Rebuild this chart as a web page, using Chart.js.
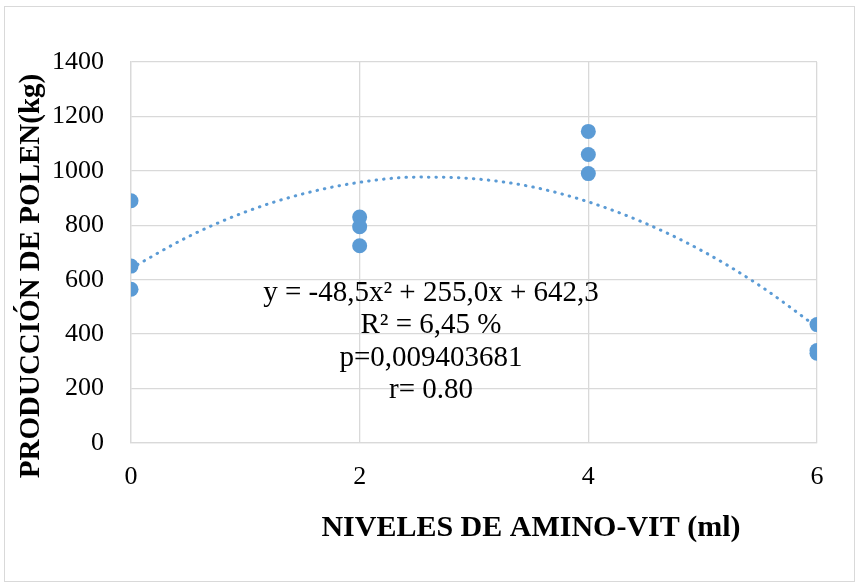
<!DOCTYPE html>
<html><head><meta charset="utf-8">
<script src="https://cdn.jsdelivr.net/npm/chart.js@4/dist/chart.umd.min.js"></script>
<style>
html,body{margin:0;padding:0;background:#fff;}
#wrap{position:absolute;left:0;top:0;width:861px;height:588px;}
#frame{position:absolute;left:4px;top:6px;width:851px;height:576px;border:1px solid #d9d9d9;box-sizing:border-box;pointer-events:none;}
</style></head>
<body>
<div id="wrap"><canvas id="c" width="861" height="588"></canvas><div id="frame"></div></div>
<script>
// Observed data
const levels = [0, 0, 0, 2, 2, 2, 4, 4, 4, 6, 6, 6];
const pollen = [890, 650, 565, 830, 795, 725, 1145, 1060, 990, 435, 340, 330];
// Trend line readings (dotted polynomial trendline)
const trendX = [0, 0.5, 1, 1.5, 2, 2.5, 3, 3.5, 4, 4.5, 5, 5.5, 6];
const trendY = [642, 758, 849, 915, 958, 977, 971, 942, 886, 807, 705, 578, 426];
const yTicks = [0, 200, 400, 600, 800, 1000, 1200, 1400];
const xTicks = [0, 2, 4, 6];
const annotationLines = ["y = -48,5x\u00B2 + 255,0x + 642,3", "R\u00B2 = 6,45 %", "p=0,009403681", "r= 0.80"];
const yTitle = "PRODUCCIÓN DE POLEN(kg)";
const xTitle = "NIVELES DE AMINO-VIT (ml)";

const blue = "#5B9BD5";
const serif = "'Liberation Serif','Times New Roman',serif";

const textPlugin = {
  id: 'texts',
  afterDraw(chart) {
    const ctx = chart.ctx;
    ctx.save();
    ctx.fillStyle = '#000';
    ctx.textAlign = 'center';
    ctx.textBaseline = 'middle';
    ctx.font = "29px " + serif;
    annotationLines.forEach((t, i) => ctx.fillText(t, 431, 293 + i * 32.5));
    ctx.font = "bold 30px " + serif;
    ctx.fillText(xTitle, 531, 528);
    ctx.translate(32, 276);
    ctx.rotate(-Math.PI / 2);
    ctx.font = "bold 29px " + serif;
    ctx.fillText(yTitle, 0, 0);
    ctx.restore();
  }
};

new Chart(document.getElementById('c'), {
  type: 'scatter',
  data: {
    datasets: [
      {
        data: trendX.map((x, i) => ({x, y: trendY[i]})),
        showLine: true,
        borderColor: blue,
        borderWidth: 3,
        borderDash: [0.5, 7],
        borderCapStyle: 'round',
        cubicInterpolationMode: 'monotone',
        pointRadius: 0,
        order: 0
      },
      {
        data: levels.map((x, i) => ({x, y: pollen[i]})),
        backgroundColor: blue,
        borderColor: blue,
        borderWidth: 0,
        pointRadius: 7.5,
        order: 1
      }
    ]
  },
  options: {
    responsive: false,
    animation: false,
    devicePixelRatio: 1,
    layout: {padding: {left: 0, top: 62, right: 44, bottom: 0}},
    plugins: {legend: {display: false}, tooltip: {enabled: false}},
    scales: {
      x: {
        type: 'linear', min: 0, max: 6,
        afterBuildTicks: s => { s.ticks = xTicks.map(v => ({value: v})); },
        afterFit: s => { s.height = 145; },
        grid: {color: '#d9d9d9', lineWidth: 1.3, drawTicks: false},
        border: {color: '#d9d9d9', width: 1.3},
        ticks: {padding: 19, color: '#000', font: {family: serif, size: 26}, callback: v => String(v)}
      },
      y: {
        min: 0, max: 1400,
        afterBuildTicks: s => { s.ticks = yTicks.map(v => ({value: v})); },
        afterFit: s => { s.width = 131; },
        grid: {color: '#d9d9d9', lineWidth: 1.3, drawTicks: false},
        border: {color: '#d9d9d9', width: 1.3},
        ticks: {padding: 27, color: '#000', font: {family: serif, size: 26}, callback: v => String(v)}
      }
    }
  },
  plugins: [textPlugin]
});
</script>
</body></html>
